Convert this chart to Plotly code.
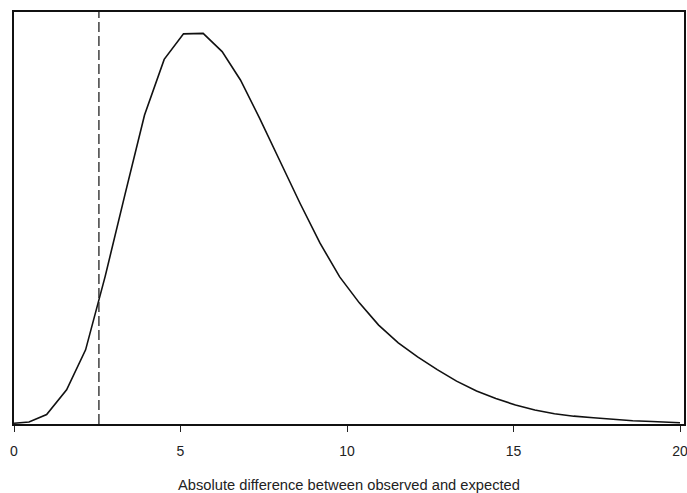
import plotly.graph_objects as go

# Data
diff_x = [0.0, 0.45, 0.98, 1.58, 2.15, 2.74, 3.33, 3.92, 4.51, 5.09, 5.68, 6.25,
          6.80, 7.37, 8.00, 8.60, 9.19, 9.78, 10.37, 10.95, 11.54, 12.12, 12.71,
          13.29, 13.89, 14.47, 15.06, 15.64, 16.23, 16.81, 17.40, 17.98, 18.58,
          19.16, 19.75, 20.0]
freq_y = [0.0002, 0.0005, 0.0023, 0.0083, 0.0180, 0.0359, 0.0556, 0.0750, 0.0885,
          0.0947, 0.0948, 0.0904, 0.0835, 0.0743, 0.0636, 0.0534, 0.0439, 0.0357,
          0.0294, 0.0240, 0.0197, 0.0163, 0.0132, 0.0104, 0.0080, 0.0062, 0.0046,
          0.0034, 0.0025, 0.0019, 0.0015, 0.0011, 0.0008, 0.0006, 0.0004, 0.0003]
observed_x = 2.55
x_ticks = [0, 5, 10, 15, 20]
x_title = "Absolute difference between observed and expected"

fig = go.Figure()
fig.add_trace(go.Scatter(x=diff_x, y=freq_y, mode="lines",
                         line=dict(color="#111111", width=1.6), showlegend=False,
                         hoverinfo="skip"))
fig.add_trace(go.Scatter(x=[observed_x, observed_x], y=[0, 0.1], mode="lines",
                         line=dict(color="#222222", width=1.3, dash="10px,4px"),
                         showlegend=False, hoverinfo="skip"))

fig.update_layout(
    width=687, height=493,
    margin=dict(l=14, r=3, t=12, b=69, autoexpand=False),
    paper_bgcolor="white", plot_bgcolor="white",
    font=dict(family="Liberation Sans, Arial, sans-serif", size=13, color="#222222"),
    xaxis=dict(range=[0, 20.12], tickvals=x_ticks, ticktext=[str(t) for t in x_ticks],
               showgrid=False, zeroline=False, showline=True, linecolor="#111111",
               linewidth=1.5, mirror=True, ticks="outside", ticklen=6, tickwidth=1,
               tickcolor="#222222", ticklabelstandoff=7, automargin=False,
               ticklabeloverflow="allow",
               tickfont=dict(size=14),
               title=dict(text=x_title, standoff=22,
                          font=dict(size=14.7, color="#222222"))),
    yaxis=dict(range=[0, 0.1], showticklabels=False, showgrid=False, zeroline=False,
               showline=True, linecolor="#111111", linewidth=1.5, mirror=True,
               ticks="", automargin=False),
)

fig.write_html("out.html")
